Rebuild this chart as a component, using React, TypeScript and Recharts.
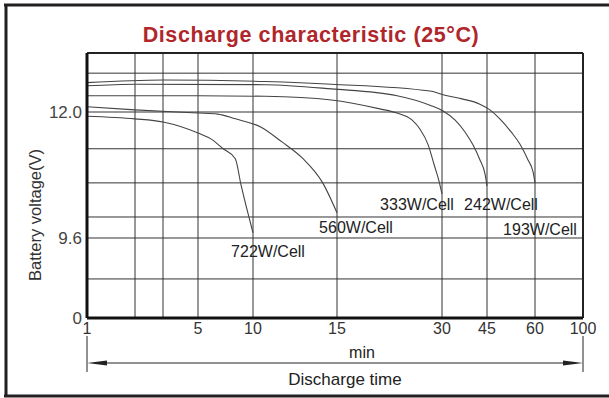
import React from 'react';
import { LineChart, Line, XAxis, YAxis, CartesianGrid, ReferenceLine } from 'recharts';

const font = '"Liberation Sans", Arial, sans-serif';

// time axis: minute value of each gridline and its place along the (non-uniform) axis
const timeTicks = [1, 2, 3, 5, 10, 15, 30, 45, 60, 100];
const timeTickPos = [0, 48, 76, 111, 166, 250, 355, 400, 448, 496];
const timeLabels = ['1', '', '', '5', '10', '15', '30', '45', '60', '100'];

// voltage axis, broken below 9.6 V (bottom tick stands for 0)
const voltTicks = [8.076, 8.82, 9.6, 10.0, 10.65, 11.3, 12.0, 12.74, 13.124];
const voltLabels = ['0', '', '9.6', '', '', '', '12.0', '', ''];

const min722 = [1, 2, 3, 5, 6.0, 6.8, 8.0, 8.6, 10];
const volt722 = [11.92, 11.87, 11.81, 11.6, 11.47, 11.31, 11.11, 10.61, 9.7];

const min560 = [1, 2, 5, 6.4, 8.0, 10.4, 11.5, 12.7, 14.0, 15];
const volt560 = [12.1, 12.04, 11.98, 11.96, 11.87, 11.71, 11.43, 11.12, 10.65, 10.08];

const min333 = [1, 5, 10.6, 14.6, 19.9, 22.3, 24.6, 25.9, 27.4, 28.5, 29.4, 30];
const volt333 = [12.31, 12.31, 12.3, 12.23, 12.06, 11.98, 11.85, 11.68, 11.37, 10.99, 10.69, 10.44];

const min242 = [1, 2, 10.6, 14.6, 22.3, 27.7, 30.3, 33.7, 36.9, 39.7, 42.2, 44.2, 45];
const volt242 = [12.5, 12.53, 12.52, 12.44, 12.31, 12.13, 12.02, 11.85, 11.62, 11.37, 11.09, 10.82, 10.59];

const min193 = [1, 3, 10.6, 14.6, 27.7, 30.8, 35.9, 42.2, 45.8, 48.6, 52.0, 54.8, 57.5, 59.3, 60];
const volt193 = [12.56, 12.61, 12.58, 12.53, 12.4, 12.32, 12.25, 12.15, 12.04, 11.87, 11.62, 11.39, 11.09, 10.86, 10.65];

const seriesNames = ['722W/Cell', '560W/Cell', '333W/Cell', '242W/Cell', '193W/Cell'];

// minutes -> axis position (log interpolation between gridlines)
const toPos = (m: number) => {
  for (let i = 0; i < timeTicks.length - 1; i++) {
    const a = timeTicks[i];
    const b = timeTicks[i + 1];
    if (m <= b || i === timeTicks.length - 2) {
      const f = Math.log(m / a) / Math.log(b / a);
      return timeTickPos[i] + f * (timeTickPos[i + 1] - timeTickPos[i]);
    }
  }
  return 0;
};

const build = (mins: number[], volts: number[]) =>
  mins.map((m, i) => ({ pos: toPos(m), v: volts[i] }));

const series = [
  build(min722, volt722),
  build(min560, volt560),
  build(min333, volt333),
  build(min242, volt242),
  build(min193, volt193),
];

// where each curve's name sits relative to its end point
const labelOffsets = [
  [15, 18],
  [19, 14],
  [-25, 10],
  [14, 18],
  [5, 46],
];

const endLabel = (text: string, dx: number, dy: number, last: number) => (props: any) => {
  if (props.index !== last) return <g key={`e${props.index}`} />;
  const x = props.x ?? props.viewBox?.x;
  const y = props.y ?? props.viewBox?.y;
  return (
    <text
      key={`l${text}`}
      x={x + dx}
      y={y + dy + 6}
      textAnchor="middle"
      fontSize={16}
      fontFamily={font}
      fill="#222"
    >
      {text}
    </text>
  );
};

const fmtTime = (v: number) => timeLabels[timeTickPos.indexOf(v)] ?? '';
const fmtVolt = (v: number) => voltLabels[voltTicks.indexOf(v)] ?? '';

export default function App() {
  return (
    <div style={{ position: 'absolute', left: 0, top: 0, width: 609, height: 398, background: '#fff' }}>
      <LineChart width={609} height={398} margin={{ top: 53, right: 26, bottom: 50, left: 27 }}>
        <CartesianGrid stroke="#333" strokeWidth={1} />
        <XAxis
          type="number"
          dataKey="pos"
          domain={[0, 496]}
          ticks={timeTickPos}
          interval={0}
          tickFormatter={fmtTime}
          tickSize={0}
          tickMargin={5}
          height={30}
          axisLine={{ stroke: '#111', strokeWidth: 3 }}
          tick={{ fill: '#333', fontSize: 16, fontFamily: font }}
        />
        <YAxis
          type="number"
          domain={[8.076, 13.124]}
          ticks={voltTicks}
          interval={0}
          tickFormatter={fmtVolt}
          tickSize={0}
          tickMargin={5}
          width={60}
          axisLine={{ stroke: '#111', strokeWidth: 3 }}
          tick={{ fill: '#444', fontSize: 17, fontFamily: font }}
        />
        <ReferenceLine y={13.124} stroke="#222" strokeWidth={2} />
        <ReferenceLine x={496} stroke="#222" strokeWidth={2} />
        {series.map((d, i) => (
          <Line
            key={seriesNames[i]}
            data={d}
            dataKey="v"
            type="monotone"
            stroke="#444"
            strokeWidth={1.1}
            dot={false}
            activeDot={false}
            isAnimationActive={false}
            label={endLabel(seriesNames[i], labelOffsets[i][0], labelOffsets[i][1], d.length - 1)}
          />
        ))}
      </LineChart>
      <svg
        width={609}
        height={398}
        style={{ position: 'absolute', left: 0, top: 0, pointerEvents: 'none' }}
      >
        <line x1={6} y1={4} x2={6} y2={397} stroke="#231f20" strokeWidth={3} />
        <line x1={4} y1={5} x2={609} y2={5} stroke="#231f20" strokeWidth={3} />
        <line x1={4} y1={396} x2={609} y2={396} stroke="#231f20" strokeWidth={3} />
        <text
          x={311}
          y={42}
          textAnchor="middle"
          fontSize={21.5}
          letterSpacing={0.6}
          fontWeight="bold"
          fontFamily={font}
          fill="#b0262b"
        >
          Discharge characteristic (25°C)
        </text>
        <text
          x={0}
          y={0}
          transform="translate(41 215) rotate(-90)"
          textAnchor="middle"
          fontSize={16.5}
          fontFamily={font}
          fill="#333"
        >
          Battery voltage(V)
        </text>
        <line x1={87} y1={336} x2={87} y2={372} stroke="#222" strokeWidth={1} />
        <line x1={583} y1={336} x2={583} y2={372} stroke="#222" strokeWidth={1} />
        <line x1={95} y1={363} x2={575} y2={363} stroke="#222" strokeWidth={1} />
        <polygon points="87,363 107,360.5 107,365.5" fill="#222" />
        <polygon points="583,363 563,360.5 563,365.5" fill="#222" />
        <text x={362} y={358} textAnchor="middle" fontSize={16} fontFamily={font} fill="#222">
          min
        </text>
        <text x={345} y={385} textAnchor="middle" fontSize={17} fontFamily={font} fill="#222">
          Discharge time
        </text>
      </svg>
    </div>
  );
}
